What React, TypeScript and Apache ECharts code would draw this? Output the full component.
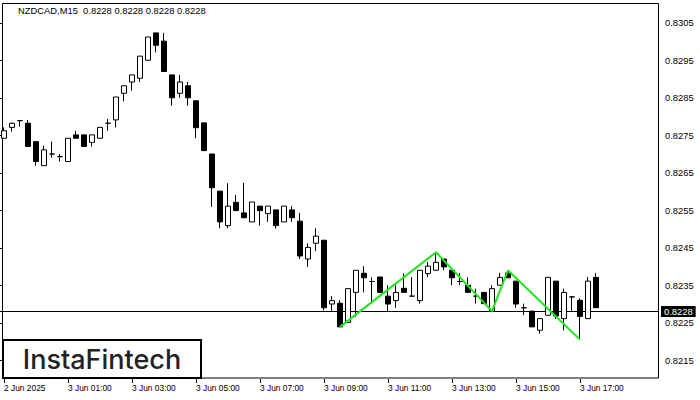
import React, { useEffect, useRef } from "react";
import * as echarts from "echarts";

const symbolName = "NZDCAD,M15";
const headerOHLC = [0.8228, 0.8228, 0.8228, 0.8228];
const lastPrice = 0.8228;
const tickLabels = [
  "2 Jun 2025", "3 Jun 01:00", "3 Jun 03:00", "3 Jun 05:00", "3 Jun 07:00",
  "3 Jun 09:00", "3 Jun 11:00", "3 Jun 13:00", "3 Jun 15:00", "3 Jun 17:00",
];
const priceTicksMin = 0.8215;
const priceTicksMax = 0.8305;

const opens = [
  0.82742, 0.82771, 0.82789, 0.82782, 0.82733, 0.82669, 0.827, 0.82693, 0.8268, 0.82751,
  0.82751, 0.82731, 0.82742, 0.82782, 0.82791, 0.82862, 0.82892, 0.82902, 0.8295, 0.83023,
  0.83001, 0.82911, 0.82862, 0.82882, 0.82842, 0.82783, 0.827, 0.82601, 0.82509, 0.82571,
  0.82543, 0.82519, 0.82561, 0.82541, 0.82551, 0.82519, 0.82551, 0.82521, 0.8242, 0.82462,
  0.8247, 0.823, 0.82302, 0.82251, 0.82331, 0.82382, 0.8236, 0.82372, 0.82321, 0.82309,
  0.82342, 0.82321, 0.82309, 0.82381, 0.8239, 0.8242, 0.8239, 0.8236, 0.8235, 0.82321,
  0.82331, 0.82281, 0.8235, 0.82383, 0.82361, 0.8229, 0.82281, 0.8223, 0.8227, 0.82361,
  0.82261, 0.82319, 0.8231, 0.82261, 0.82371,
];
const closes = [
  0.82762, 0.82782, 0.82789, 0.8272, 0.8268, 0.82711, 0.827, 0.82693, 0.82742, 0.82742,
  0.8272, 0.82751, 0.82771, 0.82782, 0.82852, 0.82882, 0.82911, 0.82961, 0.83012, 0.8299,
  0.8292, 0.8285, 0.82892, 0.8285, 0.8277, 0.82709, 0.8261, 0.82519, 0.82561, 0.82549,
  0.8253, 0.82572, 0.82549, 0.82561, 0.82509, 0.82561, 0.8253, 0.82428, 0.82451, 0.82481,
  0.8229, 0.82309, 0.82239, 0.82341, 0.8239, 0.8237, 0.8236, 0.82331, 0.823, 0.82331,
  0.82331, 0.82321, 0.8239, 0.82401, 0.82411, 0.82399, 0.8237, 0.8236, 0.82331, 0.82321,
  0.82301, 0.82341, 0.82371, 0.8237, 0.823, 0.8229, 0.82239, 0.82261, 0.82371, 0.82268,
  0.82331, 0.82319, 0.82267, 0.82361, 0.8229,
];
const lows = [
  0.8274, 0.8276, 0.82773, 0.8272, 0.82669, 0.82669, 0.8269, 0.8268, 0.8268, 0.82742,
  0.8272, 0.8272, 0.82742, 0.82762, 0.82771, 0.8284, 0.82869, 0.82892, 0.8295, 0.82971,
  0.8292, 0.82829, 0.8285, 0.82829, 0.82742, 0.82709, 0.82559, 0.82502, 0.82502, 0.82549,
  0.8253, 0.82519, 0.82509, 0.82519, 0.82501, 0.82519, 0.82519, 0.8242, 0.82399, 0.82441,
  0.82283, 0.82282, 0.82239, 0.82251, 0.82266, 0.82331, 0.82301, 0.82331, 0.82281, 0.8229,
  0.82331, 0.82321, 0.82301, 0.82372, 0.8239, 0.8239, 0.8235, 0.8235, 0.82331, 0.82301,
  0.82301, 0.82281, 0.8235, 0.8237, 0.8229, 0.8227, 0.82239, 0.82221, 0.8227, 0.8226,
  0.8223, 0.82281, 0.82205, 0.82261, 0.8229,
];
const highs = [
  0.82771, 0.82784, 0.82789, 0.82791, 0.82733, 0.82722, 0.82733, 0.827, 0.82742, 0.82762,
  0.82751, 0.82751, 0.82771, 0.82793, 0.82852, 0.82882, 0.82911, 0.82961, 0.83012, 0.83023,
  0.83023, 0.82911, 0.82911, 0.82892, 0.82842, 0.82783, 0.827, 0.82601, 0.82622, 0.82591,
  0.82623, 0.82572, 0.82561, 0.82561, 0.82551, 0.82561, 0.82561, 0.82543, 0.82462, 0.82502,
  0.8247, 0.82321, 0.8231, 0.82341, 0.8239, 0.82401, 0.82371, 0.82372, 0.8235, 0.8235,
  0.82382, 0.82372, 0.8239, 0.82412, 0.82438, 0.8242, 0.8239, 0.82383, 0.82371, 0.82341,
  0.82331, 0.8235, 0.82383, 0.8239, 0.82361, 0.82301, 0.82281, 0.82261, 0.82371, 0.82361,
  0.82341, 0.82319, 0.82315, 0.82372, 0.82383,
];

const patternIdx = [42, 54, 61, 63, 72];
const patternVal = [0.82239, 0.82438, 0.82281, 0.8239, 0.82205];

const totalSlots = 82;
const ticksEvery = 8;

export default function App() {
  const ref = useRef<HTMLDivElement>(null);
  useEffect(() => {
    if (!ref.current) return;
    const chart = echarts.init(ref.current, undefined, { renderer: "svg" });

    const categories: string[] = [];
    for (let i = 0; i < totalSlots; i++) {
      const m = 23 * 60 + 15 * i;
      const day = 2 + Math.floor(m / 1440);
      const mm = m % 1440;
      const hh = String(Math.floor(mm / 60)).padStart(2, "0");
      const mi = String(mm % 60).padStart(2, "0");
      categories.push(`${day} Jun ${hh}:${mi}`);
    }
    const candles = opens.map((o, i) => [o, closes[i], lows[i], highs[i]]);
    const pattern: (number | null)[] = opens.map(() => null);
    patternIdx.forEach((k, j) => (pattern[k] = patternVal[j]));

    const showIdx = (i: number) => i % ticksEvery === 0 && i / ticksEvery < tickLabels.length;
    const font = "Liberation Sans";

    chart.setOption({
      animation: false,
      backgroundColor: "#fff",
      grid: [
        { left: 0, top: 4, width: 656, height: 375 },
        { left: 0, top: 22.75, width: 659, height: 337.5 },
      ],
      xAxis: [
        {
          type: "category",
          gridIndex: 0,
          data: categories,
          boundaryGap: true,
          axisLine: { show: false },
          axisTick: {
            show: true,
            alignWithLabel: true,
            interval: showIdx,
            length: 4,
            lineStyle: { color: "#000" },
          },
          axisLabel: {
            interval: showIdx,
            formatter: (_v: string, i: number) => tickLabels[i / ticksEvery] ?? "",
            align: "left",
            color: "#000",
            fontSize: 8.4,
            fontFamily: font,
            margin: 5,
          },
          splitLine: { show: false },
        },
        { type: "value", gridIndex: 1, min: 0, max: 1, show: false },
      ],
      yAxis: [
        { type: "value", gridIndex: 0, min: 0.821, max: 0.831, show: false },
        {
          type: "value",
          gridIndex: 1,
          min: priceTicksMin,
          max: priceTicksMax,
          interval: 0.001,
          position: "right",
          axisLine: { show: false },
          axisTick: { show: true, length: 3, lineStyle: { color: "#000" } },
          axisLabel: {
            color: "#000",
            fontSize: 9.4,
            fontFamily: font,
            margin: 6,
            formatter: (v: number) => v.toFixed(4),
          },
          splitLine: { show: false },
        },
      ],
      series: [
        {
          type: "line",
          xAxisIndex: 1,
          yAxisIndex: 1,
          data: [
            [0, lastPrice],
            [1, lastPrice],
          ],
          symbol: "none",
          silent: true,
          lineStyle: { color: "#000", width: 1 },
          endLabel: {
            show: true,
            distance: 2,
            formatter: () => lastPrice.toFixed(4),
            backgroundColor: "#000",
            color: "#fff",
            padding: [1, 3],
            fontSize: 9.4,
            fontFamily: font,
          },
          z: 1,
        },
        {
          type: "candlestick",
          xAxisIndex: 0,
          yAxisIndex: 0,
          data: candles,
          barWidth: 5,
          itemStyle: {
            color: "#fff",
            color0: "#000",
            borderColor: "#000",
            borderColor0: "#000",
            borderWidth: 1,
          },
          z: 2,
        },
        {
          type: "line",
          xAxisIndex: 0,
          yAxisIndex: 0,
          data: pattern,
          connectNulls: true,
          symbol: "none",
          lineStyle: { color: "#1ee61e", width: 2 },
          z: 5,
        },
      ],
      graphic: [
        {
          type: "rect",
          shape: { x: 2.5, y: 3.5, width: 656, height: 374.5 },
          style: { fill: "none", stroke: "#000", lineWidth: 1 },
          silent: true,
        },
        {
          type: "text",
          left: 18,
          top: 6,
          style: {
            text: `${symbolName}  ${headerOHLC.map((v) => v.toFixed(4)).join(" ")}`,
            fill: "#000",
            fontSize: 9.4,
            fontFamily: font,
          },
        },
        {
          type: "rect",
          shape: { x: 3, y: 340, width: 198, height: 38 },
          style: { fill: "#fff", stroke: "#000", lineWidth: 2 },
          z: 10,
        },
        {
          type: "text",
          x: 102,
          y: 359,
          style: {
            text: "InstaFintech",
            fill: "#222",
            fontSize: 27,
            fontWeight: 500,
            fontFamily: "Inter",
            textAlign: "center",
            textVerticalAlign: "middle",
          },
          z: 11,
        },
      ],
    });
    return () => chart.dispose();
  }, []);
  return (
    <div
      ref={ref}
      style={{ position: "fixed", left: 0, top: 0, width: 700, height: 400, background: "#fff" }}
    />
  );
}
